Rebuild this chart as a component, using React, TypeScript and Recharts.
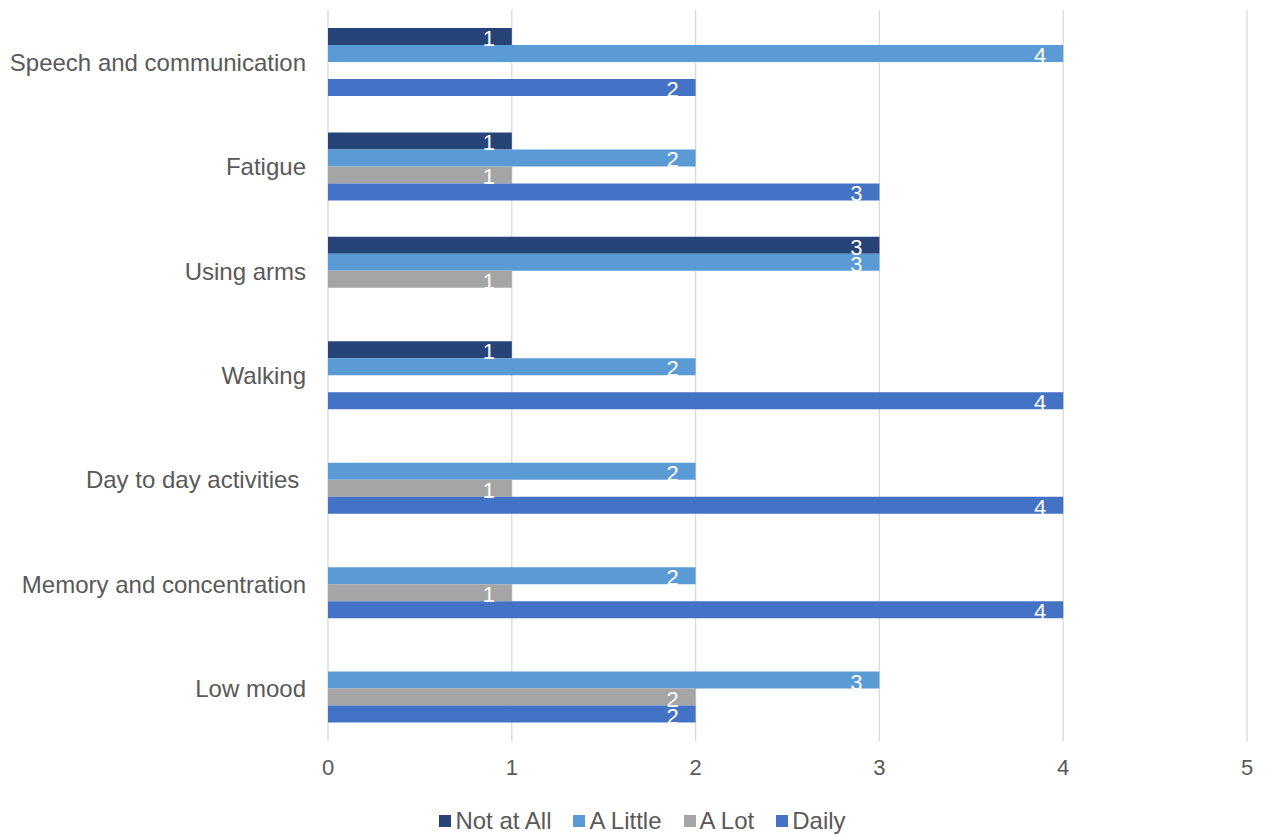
import React from 'react';
import { BarChart, Bar, XAxis, YAxis, CartesianGrid, Legend, LabelList } from 'recharts';

const categories = [
  'Speech and communication',
  'Fatigue',
  'Using arms',
  'Walking',
  'Day to day activities\u00a0',
  'Memory and concentration',
  'Low mood',
];

const notAtAll = [1, 1, 3, 1, null, null, null];
const aLittle = [4, 2, 3, 2, 2, 2, 3];
const aLot = [null, 1, 1, null, 1, 1, 2];
const daily = [2, 3, null, 4, 4, 4, 2];

const xTicks = [0, 1, 2, 3, 4, 5];

const seriesInfo = [
  { key: 'notAtAll', name: 'Not at All', color: '#264478' },
  { key: 'aLittle', name: 'A Little', color: '#5B9BD5' },
  { key: 'aLot', name: 'A Lot', color: '#A5A5A5' },
  { key: 'daily', name: 'Daily', color: '#4472C4' },
];

const data = categories.map((name, i) => ({
  name,
  notAtAll: notAtAll[i],
  aLittle: aLittle[i],
  aLot: aLot[i],
  daily: daily[i],
}));

const FONT = '"Liberation Sans", Arial, sans-serif';
const TEXT = '#595959';

// White value label placed just inside the end of each bar
const EndLabel = (props: any) => {
  const { x, y, width, height, value } = props;
  if (value === null || value === undefined) return null;
  return (
    <text
      x={x + width - 23}
      y={y + height + 1}
      fill="#FFFFFF"
      fontSize={22}
      fontFamily={FONT}
      textAnchor="middle"
    >
      {value}
    </text>
  );
};

// Legend in series order with square swatches
const LegendContent = () => (
  <div
    style={{
      display: 'flex',
      justifyContent: 'center',
      gap: 22,
      fontFamily: FONT,
      fontSize: 24,
      color: TEXT,
      paddingLeft: 38,
    }}
  >
    {seriesInfo.map((s) => (
      <div key={s.key} style={{ display: 'flex', alignItems: 'center' }}>
        <span
          style={{
            display: 'inline-block',
            width: 12,
            height: 12,
            background: s.color,
            marginRight: 4,
          }}
        />
        <span>{s.name}</span>
      </div>
    ))}
  </div>
);

export default function App() {
  return (
    <div style={{ position: 'absolute', left: 0, top: 0, background: '#fff' }}>
      <BarChart
        width={1265}
        height={835}
        data={data}
        layout="vertical"
        margin={{ top: 10, right: 18, left: 0, bottom: 0 }}
        barSize={17}
        barGap={0}
      >
        <CartesianGrid horizontal={false} stroke="#D9D9D9" strokeWidth={1.3} />
        <XAxis
          type="number"
          domain={[0, 5]}
          ticks={xTicks}
          axisLine={false}
          tickLine={false}
          height={44}
          tickMargin={12}
          tick={{ fill: TEXT, fontSize: 22, fontFamily: FONT }}
        />
        <YAxis
          type="category"
          dataKey="name"
          width={328}
          axisLine={false}
          tickLine={false}
          tickSize={0}
          tickMargin={22}
          tick={{ fill: TEXT, fontSize: 24, fontFamily: FONT }}
        />
        <Legend
          verticalAlign="bottom"
          content={LegendContent}
          wrapperStyle={{ height: 50, boxSizing: 'border-box', paddingTop: 22 }}
        />
        {seriesInfo.map((s) => (
          <Bar key={s.key} dataKey={s.key} name={s.name} fill={s.color} isAnimationActive={false}>
            <LabelList dataKey={s.key} content={EndLabel} />
          </Bar>
        ))}
      </BarChart>
    </div>
  );
}
